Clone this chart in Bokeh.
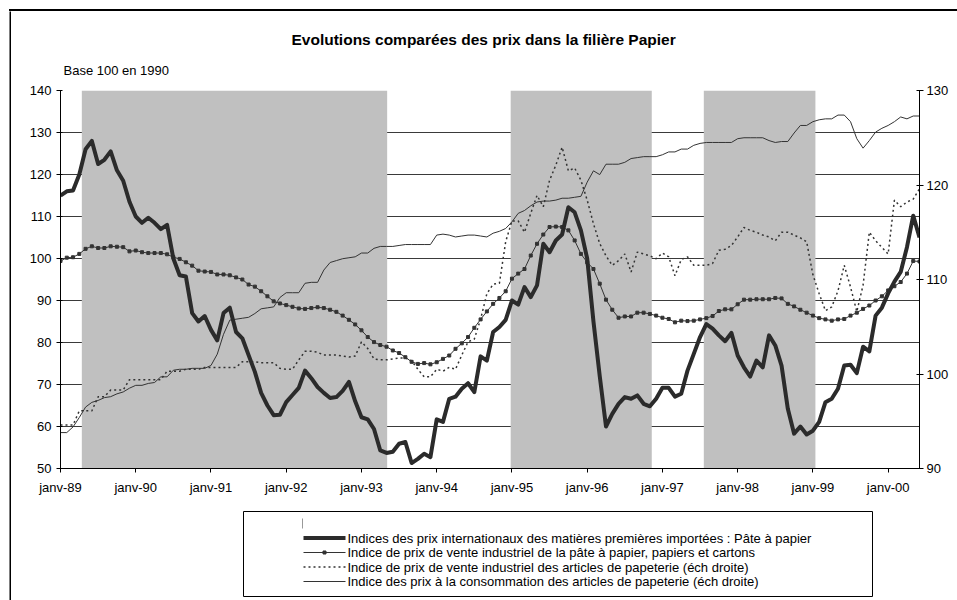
from bokeh.plotting import figure
from bokeh.models import Range1d, LinearAxis, FixedTicker, Title, Spacer, Div
from bokeh.layouts import column, row
from bokeh.core.properties import value
from bokeh.embed import file_html
from bokeh.resources import INLINE

# ---------------- data ----------------
tick_labels = ["janv-89", "janv-90", "janv-91", "janv-92", "janv-93", "janv-94",
               "janv-95", "janv-96", "janv-97", "janv-98", "janv-99", "janv-00"]

# Indices des prix internationaux des matières premières importées : Pâte à papier (left)
pulp_import = [
    115, 116, 116.2, 120, 126, 128, 122.5, 123.5, 125.5, 121,
    118.5, 113.5, 110, 108.5, 109.7, 108.5, 107, 108, 100, 96,
    95.7, 87, 85, 86.3, 83, 80.5, 87, 88.3, 82.5, 81,
    77, 73, 68, 65, 62.7, 62.8, 65.8, 67.5, 69.2, 73.3,
    71.5, 69.4, 68, 66.8, 67, 68.5, 70.6, 66, 62.2, 61.7,
    59.4, 54.3, 53.7, 54, 55.9, 56.3, 51.3, 52.3, 53.5, 52.7,
    61.7, 61.1, 66.6, 67.1, 69, 70.3, 68.2, 76.7, 75.7, 82.5,
    83.7, 85.4, 90, 89, 93.2, 90.8, 93.6, 103.5, 101.5, 104.3,
    105.7, 112.2, 111, 106.7, 100, 85, 72, 60, 63, 65.4,
    67, 66.6, 67.4, 65.4, 64.8, 66.6, 69.2, 69.2, 67.1, 67.8,
    73.3, 77.3, 81.3, 84.4, 83.3, 81.7, 80.3, 82.3, 76.9, 74.1,
    71.9, 75.7, 74.1, 81.7, 79.3, 74.5, 64.2, 58.3, 60, 58.1,
    59, 61.1, 65.8, 66.6, 69, 74.5, 74.7, 72.7, 79, 77.9,
    86.4, 88.3, 91.7, 94.5, 96.8, 102.7, 110.2, 105]

# Indice de prix de vente industriel de la pâte à papier, papiers et cartons (left)
pulp_paper_ppi = [
    99.4, 100.2, 100.3, 101.1, 102.3, 102.9, 102.5, 102.5, 102.9, 102.8,
    102.7, 101.7, 101.9, 101.5, 101.3, 101.3, 101.3, 101.0, 100.3, 99.9,
    99.1, 98.3, 97.1, 96.9, 96.8, 96.2, 96.2, 96.0, 95.5, 95.0,
    93.8, 93.3, 92.2, 91.0, 89.8, 89.3, 88.9, 88.5, 88.1, 88.0,
    88.2, 88.4, 88.2, 87.8, 87.3, 86.4, 85.4, 84.3, 82.9, 81.3,
    80.1, 79.4, 79.0, 78.1, 77.5, 76.5, 75.4, 74.9, 75.1, 74.8,
    75.3, 76.1, 76.9, 78.5, 79.8, 81.3, 83.5, 85.5, 87.4, 89.2,
    90.6, 92.2, 95.2, 96.4, 97.5, 100.7, 103.5, 105.7, 107.5, 107.6,
    107.5, 106.7, 104.3, 101.1, 99.1, 97.5, 94.0, 90.2, 87.8, 85.9,
    86.2, 86.2, 87.1, 87.1, 86.8, 86.4, 85.9, 85.6, 84.8, 85.2,
    85.1, 85.2, 85.5, 85.8, 86.3, 87.5, 87.9, 87.9, 89.1, 90.2,
    90.2, 90.3, 90.3, 90.3, 90.6, 90.5, 89.2, 88.6, 87.8, 87.1,
    86.4, 85.8, 85.5, 85.2, 85.5, 85.6, 86.4, 87.1, 88.0, 88.8,
    90.0, 91.0, 92.4, 93.4, 94.4, 96.4, 99.4, 99.3]

# Indice de prix de vente industriel des articles de papeterie (right)
stationery_ppi = [
    94.6, 94.6, 94.6, 96.1, 96.1, 96.1, 97.6, 97.6, 98.3, 98.3,
    98.3, 99.4, 99.4, 99.4, 99.4, 99.4, 99.4, 100.3, 100.3, 100.3,
    100.5, 100.5, 100.5, 100.7, 100.7, 100.7, 100.7, 100.7, 100.7, 101.3,
    101.3, 101.3, 101.2, 101.2, 101.2, 100.6, 100.5, 100.5, 101.5, 102.4,
    102.4, 102.3, 102.0, 102.0, 102.0, 101.9, 101.8, 101.9, 103.4, 102.7,
    101.6, 101.5, 101.5, 101.6, 101.7, 101.7, 101.4, 100.5, 99.7, 99.7,
    100.5, 100.3, 100.7, 100.5, 102.0, 103.4, 103.7, 105.8, 108.5, 109.5,
    109.6, 114.0, 116.2, 116.2, 115.0, 117.0, 118.9, 117.7, 120.5, 122.1,
    124.0, 121.5, 121.8, 120.5, 118.4, 115.9, 113.8, 112.5, 111.5, 112.0,
    112.7, 110.8, 112.9, 112.7, 112.5, 112.2, 112.8, 112.4, 110.4, 112.1,
    112.4, 111.5, 111.5, 111.5, 111.7, 113.1, 113.2, 113.6, 114.5, 115.5,
    115.2, 115.0, 114.7, 114.5, 114.1, 115.0, 115.0, 114.7, 114.4, 114.0,
    110.5, 108.5, 106.7, 107.1, 108.8, 111.5, 109.2, 106.6, 109.4, 115.0,
    114.1, 113.4, 112.7, 118.4, 117.7, 118.2, 118.5, 119.6]

# Indice des prix à la consommation des articles de papeterie (right)
stationery_cpi = [
    93.8, 93.8, 94.4, 95.4, 96.5, 97.0, 97.2, 97.5, 97.6, 97.9,
    98.1, 98.5, 98.8, 98.8, 99.0, 99.1, 99.7, 99.7, 100.4, 100.5,
    100.5, 100.6, 100.6, 100.6, 100.9, 102.1, 104.2, 105.7, 105.8, 105.9,
    106.0, 106.4, 106.9, 107.0, 107.1, 108.1, 108.6, 108.6, 108.6, 109.6,
    109.7, 109.7, 111.0, 111.8, 112.0, 112.2, 112.3, 112.4, 112.8, 112.8,
    113.3, 113.5, 113.5, 113.5, 113.6, 113.7, 113.7, 113.7, 113.7, 113.7,
    114.7, 114.8, 114.7, 114.5, 114.6, 114.7, 114.7, 114.6, 114.5, 114.9,
    115.1, 115.4, 116.1, 117.0, 117.3, 117.8, 118.2, 118.3, 118.3, 118.4,
    118.6, 118.6, 118.7, 118.8, 120.3, 121.5, 121.1, 122.2, 122.2, 122.2,
    122.4, 122.8, 122.9, 123.0, 123.0, 123.0, 123.2, 123.5, 123.5, 123.8,
    123.8, 124.2, 124.4, 124.5, 124.5, 124.5, 124.5, 124.5, 124.9, 125.0,
    125.0, 125.0, 125.0, 124.7, 124.5, 124.6, 124.6, 125.5, 126.3, 126.3,
    126.7, 126.9, 127.0, 127.0, 127.4, 127.4, 126.7, 124.9, 123.9, 124.7,
    125.6, 126.0, 126.3, 126.7, 127.2, 127.0, 127.3, 127.3]

# shaded periods (month index from janv-89)
shade_start = [3.4, 71.8, 102.6]
shade_end = [52.1, 94.3, 120.4]

legend_labels = [
    "Indices des prix internationaux des matières premières importées : Pâte à papier",
    "Indice de prix de vente industriel de la pâte à papier, papiers et cartons",
    "Indice de prix de vente industriel des articles de papeterie (éch droite)",
    "Indice des prix à la consommation des articles de papeterie (éch droite)",
]

months = list(range(len(pulp_import)))

FONT = "Liberation Sans"
INK = "#333333"
GRID = "#3a3a3a"
SHADE = "#c0c0c0"

# page geometry: 9px white + 2px black frame line, then the chart canvases
BL, BR, BT = 49, 38, 79         # borders of the main canvas
CW = 946                        # canvas width
MAIN_H = 491
LEG_H = 98

# ---------------- main chart ----------------
p = figure(width=CW, height=MAIN_H,
           x_range=Range1d(0, len(months) - 1), y_range=Range1d(50, 140),
           output_backend="svg", toolbar_location=None,
           min_border_left=BL, min_border_right=BR,
           min_border_top=BT, min_border_bottom=34,
           outline_line_color=None,
           background_fill_color="white", border_fill_color="white")
p.extra_y_ranges = {"right": Range1d(90, 130)}

# titles: the one added with add_layout sits nearest to the frame
p.title.text = "Evolutions comparées des prix dans la filière Papier"
p.title.align = "left"
p.title.offset = 231
p.title.standoff = 1
p.title.text_font = FONT
p.title.text_font_size = "15.5px"
p.title.text_font_style = "bold"
p.title.text_color = "black"
p.add_layout(Title(text="Base 100 en 1990",
                   align="left", offset=3, standoff=25,
                   text_font=FONT, text_font_size="13px",
                   text_font_style="normal", text_color="black"), "above")

# axes
p.xaxis.ticker = FixedTicker(ticks=[12 * i for i in range(len(tick_labels))])
p.xaxis.major_label_overrides = {12 * i: lab for i, lab in enumerate(tick_labels)}
p.xaxis.major_tick_in = 0
p.xaxis.major_tick_out = 4
p.xaxis.minor_tick_line_color = None
p.xaxis.major_label_standoff = 7

p.yaxis.ticker = FixedTicker(ticks=list(range(50, 141, 10)))
p.yaxis.major_tick_in = 2
p.yaxis.major_tick_out = 4
p.yaxis.minor_tick_line_color = None
p.yaxis.major_label_standoff = 5

right_axis = LinearAxis(y_range_name="right",
                        ticker=FixedTicker(ticks=list(range(90, 131, 10))))
right_axis.major_tick_in = 3
right_axis.major_tick_out = 4
right_axis.minor_tick_line_color = None
right_axis.major_label_standoff = 3
p.add_layout(right_axis, "right")

for ax in [p.xaxis[0], p.yaxis[0], right_axis]:
    ax.axis_line_color = "black"
    ax.major_tick_line_color = "black"
    ax.major_label_text_font = FONT
    ax.major_label_text_font_size = "13px"
    ax.major_label_text_color = "black"

p.xgrid.visible = False
p.ygrid.ticker = FixedTicker(ticks=list(range(50, 141, 10)))
p.ygrid.grid_line_color = GRID
p.ygrid.grid_line_width = 1

# shaded periods
p.quad(left=shade_start, right=shade_end, bottom=50, top=140,
       fill_color=SHADE, line_color=None)

# series
p.line(months, stationery_cpi, y_range_name="right",
       line_color=INK, line_width=1)
p.line(months, stationery_ppi, y_range_name="right",
       line_color=INK, line_width=1.5, line_dash="2 3")
p.line(months, pulp_paper_ppi, line_color=INK, line_width=1)
p.scatter(months, pulp_paper_ppi, marker="square", size=3,
          fill_color=INK, line_color=INK)
p.line(months, pulp_import, line_color="#2b2b2b", line_width=4,
       line_join="round")

# ---------------- legend (own canvas, page-pixel coordinates) ----------------
leg_top = 11 + MAIN_H
pl = figure(width=CW, height=LEG_H, title=None,
            x_range=Range1d(60, 919), y_range=Range1d(leg_top + LEG_H, leg_top),
            output_backend="svg", toolbar_location=None,
            x_axis_type=None, y_axis_type=None,
            min_border_left=BL, min_border_right=BR,
            min_border_top=0, min_border_bottom=0,
            outline_line_color=None,
            background_fill_color="white", border_fill_color="white")
pl.grid.visible = False

box_l, box_r, box_t, box_b = 243, 872, 511, 596
rows = [523, 537.5, 552, 566.5, 581]
gx0, gx1 = 303, 345

pl.quad(left=[box_l], right=[box_r], top=[box_t], bottom=[box_b],
        fill_color=None, line_color="black", line_width=1)
pl.segment(x0=[302], x1=[302], y0=[rows[0] - 5], y1=[rows[0] + 5],
           line_color="#999999", line_width=1)
pl.segment(x0=[gx0], x1=[gx1], y0=[rows[1]], y1=[rows[1]],
           line_color="#2b2b2b", line_width=4)
pl.segment(x0=[gx0], x1=[gx1], y0=[rows[2]], y1=[rows[2]],
           line_color=INK, line_width=1)
pl.scatter(x=[(gx0 + gx1) / 2], y=[rows[2]], marker="square", size=3,
           fill_color=INK, line_color=INK)
pl.segment(x0=[gx0], x1=[gx1], y0=[rows[3]], y1=[rows[3]],
           line_color=INK, line_width=1.5, line_dash="2 3")
pl.segment(x0=[gx0], x1=[gx1], y0=[rows[4]], y1=[rows[4]],
           line_color=INK, line_width=1)
pl.text(x=[gx1 + 2] * 4, y=rows[1:], text=legend_labels,
        text_font=value(FONT), text_font_size="13px", text_color="black",
        text_align="left", text_baseline="middle")

# ---------------- outer frame lines (left and top) ----------------
left_strip = figure(width=2, height=MAIN_H + LEG_H, title=None,
                    output_backend="svg", toolbar_location=None,
                    x_axis_type=None, y_axis_type=None, min_border=0,
                    outline_line_color=None,
                    background_fill_color="black", border_fill_color="black")
left_strip.grid.visible = False

top_strip = Div(text="", width=CW + 2, height=2, margin=0,
                styles={"background-color": "black", "overflow": "hidden",
                        "font-size": "0px", "line-height": "0px"})

layout = column(
    Spacer(height=9),
    row(Spacer(width=9),
        column(top_strip,
               row(left_strip, column(p, pl, spacing=0), spacing=0),
               spacing=0),
        spacing=0),
    spacing=0)

open("out.html", "w").write(file_html(layout, INLINE))
